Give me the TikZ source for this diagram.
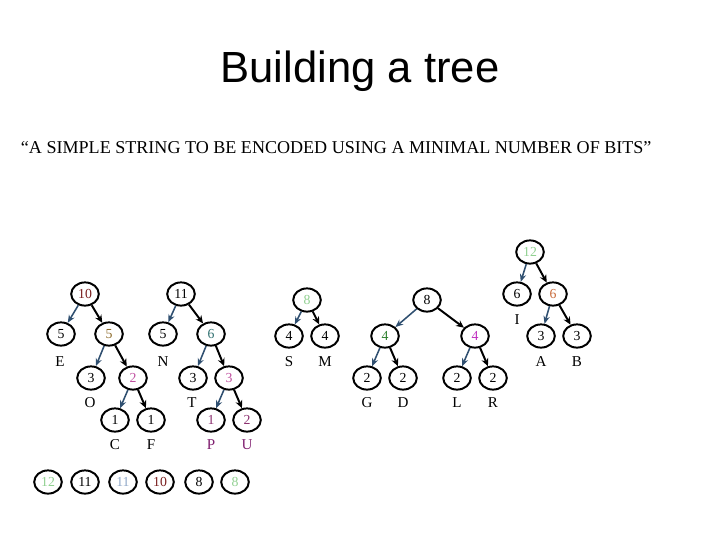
\documentclass[tikz,border=0pt]{standalone}
\usepackage{fontspec}
\setmainfont{Liberation Serif}
\newfontfamily\titlefont{Liberation Sans}
\usetikzlibrary{arrows.meta,shapes.geometric}

\definecolor{arrowblue}{HTML}{2F4F70}
\definecolor{wtdarkred}{HTML}{7A1F1F}
\definecolor{wtbrown}{HTML}{8C6A2A}
\definecolor{wtteal}{HTML}{2F6F6F}
\definecolor{wtpink}{HTML}{C050A0}
\definecolor{wtpurple}{HTML}{8B2F6F}
\definecolor{wtlabel}{HTML}{802070}
\definecolor{wtlgreen}{HTML}{90D090}
\definecolor{wtgreen}{HTML}{2F7F2F}
\definecolor{wtmagenta}{HTML}{C030C0}
\definecolor{wtorange}{HTML}{C86A3A}
\definecolor{wtlblue}{HTML}{90A8C8}

\tikzset{
  wnode/.style={draw, line width=1.4pt, ellipse, inner sep=0pt,
    minimum width=0.69cm, minimum height=0.58cm, font=\fontsize{9.8}{10}\selectfont},
  symb/.style={font=\fontsize{10.7}{11}\selectfont},
  leftarr/.style={draw=arrowblue, line width=1.1pt, -{Stealth[length=5.5pt,width=4.5pt]}},
  rightarr/.style={draw=black, line width=1.4pt, -{Stealth[length=5.5pt,width=5pt]}}
}

\begin{document}
\begin{tikzpicture}[x=0.025cm, y=-0.025cm]
  % Rahmen (Seite)
  \path (0,0) rectangle (720,540);

  % Titel
  \node (title) at (360,71) {\titlefont\fontsize{31}{34}\selectfont Building a tree};
  \node[anchor=west] (msg) at (16,148)
    {\fontsize{12.85}{14}\selectfont ``A SIMPLE STRING TO BE ENCODED USING A MINIMAL NUMBER OF BITS''};

  % Baum 1
  \node[wnode, text=wtdarkred] (a) at (85,294) {10};
  \node[wnode] (a1) at (61,334) {5};
  \node[wnode, text=wtbrown] (a2) at (109,334) {5};
  \node[wnode] (a21) at (91,378) {3};
  \node[wnode, text=wtpink] (a22) at (133,378) {2};
  \node[wnode] (a221) at (115,420) {1};
  \node[wnode] (a222) at (151,420) {1};
  \node[symb] (lE) at (60,362) {E};
  \node[symb] (lO) at (90,403) {O};
  \node[symb] (lC) at (115,445) {C};
  \node[symb] (lF) at (151,445) {F};
  \draw[leftarr] (a) -- (a1);
  \draw[rightarr] (a) -- (a2);
  \draw[leftarr] (a2) -- (a21);
  \draw[rightarr] (a2) -- (a22);
  \draw[leftarr] (a22) -- (a221);
  \draw[rightarr] (a22) -- (a222);

  % Baum 2
  \node[wnode] (b) at (181,294) {11};
  \node[wnode] (b1) at (163,334) {5};
  \node[wnode, text=wtteal] (b2) at (211,334) {6};
  \node[wnode] (b21) at (193,378) {3};
  \node[wnode, text=wtpink] (b22) at (229,378) {3};
  \node[wnode, text=wtpurple] (b221) at (211,420) {1};
  \node[wnode, text=wtpurple] (b222) at (247,420) {2};
  \node[symb] (lN) at (163,362) {N};
  \node[symb] (lT) at (192,403) {T};
  \node[symb, text=wtlabel] (lP) at (211,445) {P};
  \node[symb, text=wtlabel] (lU) at (247,445) {U};
  \draw[leftarr] (b) -- (b1);
  \draw[rightarr] (b) -- (b2);
  \draw[leftarr] (b2) -- (b21);
  \draw[rightarr] (b2) -- (b22);
  \draw[leftarr] (b22) -- (b221);
  \draw[rightarr] (b22) -- (b222);

  % Baum 3
  \node[wnode, text=wtlgreen] (c) at (307,300) {8};
  \node[wnode] (c1) at (289,336) {4};
  \node[wnode] (c2) at (325,336) {4};
  \node[symb] (lS) at (289,362) {S};
  \node[symb] (lM) at (325,362) {M};
  \draw[leftarr] (c) -- (c1);
  \draw[rightarr] (c) -- (c2);

  % Baum 4
  \node[wnode] (d) at (427,300) {8};
  \node[wnode, text=wtgreen] (d1) at (385,336) {4};
  \node[wnode, text=wtmagenta] (d2) at (475,336) {4};
  \node[wnode] (d11) at (367,378) {2};
  \node[wnode] (d12) at (403,378) {2};
  \node[wnode] (d21) at (457,378) {2};
  \node[wnode] (d22) at (493,378) {2};
  \node[symb] (lG) at (367,403) {G};
  \node[symb] (lD) at (403,403) {D};
  \node[symb] (lL) at (457,403) {L};
  \node[symb] (lR) at (493,403) {R};
  \draw[leftarr] (d) -- (d1);
  \draw[rightarr] (d) -- (d2);
  \draw[leftarr] (d1) -- (d11);
  \draw[rightarr] (d1) -- (d12);
  \draw[leftarr] (d2) -- (d21);
  \draw[rightarr] (d2) -- (d22);

  % Baum 5
  \node[wnode, text=wtlgreen] (e) at (530,252) {12};
  \node[wnode] (e1) at (517,294) {6};
  \node[wnode, text=wtorange] (e2) at (553,294) {6};
  \node[wnode] (e21) at (541,336) {3};
  \node[wnode] (e22) at (577,336) {3};
  \node[symb] (lI) at (517,320) {I};
  \node[symb] (lA) at (541,362) {A};
  \node[symb] (lB) at (577,362) {B};
  \draw[leftarr] (e) -- (e1);
  \draw[rightarr] (e) -- (e2);
  \draw[leftarr] (e2) -- (e21);
  \draw[rightarr] (e2) -- (e22);

  % Warteschlange
  \node[wnode, text=wtlgreen] (q1) at (48,482) {12};
  \node[wnode] (q2) at (85,482) {11};
  \node[wnode, text=wtlblue] (q3) at (123,482) {11};
  \node[wnode, text=wtdarkred] (q4) at (160,482) {10};
  \node[wnode] (q5) at (199,482) {8};
  \node[wnode, text=wtlgreen] (q6) at (235,482) {8};
\end{tikzpicture}
\end{document}
